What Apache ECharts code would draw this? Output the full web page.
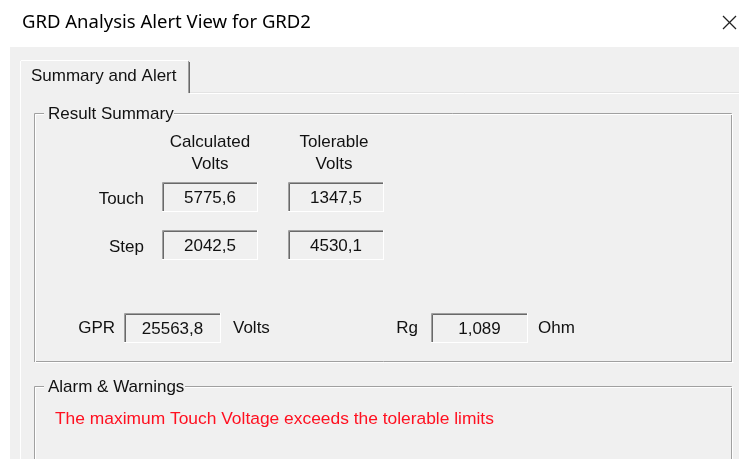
<!DOCTYPE html>
<html>
<head>
<meta charset="utf-8">
<title>GRD Analysis Alert View</title>
<script src="https://cdn.jsdelivr.net/npm/echarts@6/dist/echarts.min.js"></script>
<style>
  html, body { margin: 0; padding: 0; background: #fff; }
  #main { width: 739px; height: 459px; }
</style>
</head>
<body>
<div id="main"></div>
<script>
'use strict';
// 数据
var dialogTitle = 'GRD Analysis Alert View for GRD2';
var tabLabel = 'Summary and Alert';
var rowLabels = ['Touch', 'Step'];
var columnLabels = ['Calculated\nVolts', 'Tolerable\nVolts'];
var calculatedVolts = [5775.6, 2042.5];
var tolerableVolts = [1347.5, 4530.1];
var gprValue = [25563.8];
var rgValue = [1.089];
var alarmMessages = ['The maximum Touch Voltage exceeds the tolerable limits'];

var myChart = echarts.init(document.getElementById('main'));

var FONT = '17px "Liberation Sans", Arial, sans-serif';
var TEXT_COLOR = '#111111';

// 逗号小数
function fmt(v, digits) {
    return v.toFixed(digits).replace('.', ',');
}

function label(x, y, text, align, color, font) {
    return {
        type: 'text', x: x, y: y, silent: true,
        style: {
            text: text, font: font || FONT, fill: color || TEXT_COLOR,
            textAlign: align || 'left', textVerticalAlign: 'middle',
            align: align || 'left', verticalAlign: 'middle',
            lineHeight: 22
        }
    };
}

function line(x1, y1, x2, y2, color) {
    return {
        type: 'line', silent: true,
        shape: { x1: x1, y1: y1, x2: x2, y2: y2 },
        style: { stroke: color, lineWidth: 1 }
    };
}

// 只读文本框
function textBox(x, y, w, h, text) {
    return [
        { type: 'rect', silent: true, shape: { x: x, y: y, width: w, height: h }, style: { fill: '#f0f0f0' } },
        line(x + 0.5, y + h, x + 0.5, y + 0.5, '#a0a0a0'),
        line(x + 0.5, y + 0.5, x + w, y + 0.5, '#a0a0a0'),
        line(x + 1.5, y + h - 1, x + 1.5, y + 1.5, '#696969'),
        line(x + 1.5, y + 1.5, x + w - 1, y + 1.5, '#696969'),
        line(x + w - 0.5, y, x + w - 0.5, y + h, '#ffffff'),
        line(x, y + h - 0.5, x + w, y + h - 0.5, '#ffffff'),
        label(x + w / 2, y + h / 2 + 1, text, 'center')
    ];
}

// 分组框 (etched)
function groupBox(x, y, w, h, title, titleWidth) {
    var els = [];
    var x2 = x + w, y2 = y + h;
    var gapL = x + 10, gapR = x + 14 + titleWidth;
    [['#a0a0a0', 0.5], ['#ffffff', 1.5]].forEach(function (c) {
        var o = c[1];
        els.push(line(x + o, y + o, gapL, y + o, c[0]));
        els.push(line(gapR, y + o, x2 - 1 + o, y + o, c[0]));
        els.push(line(x + o, y + o, x + o, y2, c[0]));
        els.push(line(x2 - 1 + o, y + o, x2 - 1 + o, y2, c[0]));
        els.push(line(x + o, y2 - 1 + o, x2 + o, y2 - 1 + o, c[0]));
    });
    els.push(label(x + 14, y + 1, title, 'left'));
    return els;
}

var els = [];

// 标题栏
els.push({ type: 'rect', silent: true, shape: { x: 0, y: 0, width: 739, height: 47 }, style: { fill: '#ffffff' } });
els.push(label(22, 23, dialogTitle, 'left', '#000', '18.5px "Noto Sans", "Open Sans", sans-serif'));
els.push({ type: 'line', silent: true, shape: { x1: 723, y1: 16, x2: 736, y2: 29 }, style: { stroke: '#222', lineWidth: 1.3 } });
els.push({ type: 'line', silent: true, shape: { x1: 736, y1: 16, x2: 723, y2: 29 }, style: { stroke: '#222', lineWidth: 1.3 } });

// 面板
els.push({ type: 'rect', silent: true, shape: { x: 10, y: 47, width: 729, height: 412 }, style: { fill: '#f0f0f0' } });

// 选项卡
els.push(line(20.5, 93, 20.5, 61, '#ffffff'));
els.push(line(21, 60.5, 188, 60.5, '#ffffff'));
els.push(line(188.5, 61, 188.5, 93, '#a0a0a0'));
els.push(line(189.5, 62, 189.5, 93, '#696969'));
els.push(line(190, 92.5, 739, 92.5, '#e3e3e3'));
els.push(line(190, 93.5, 739, 93.5, '#ffffff'));
els.push(line(20.5, 93, 20.5, 459, '#ffffff'));
els.push(label(31, 76, tabLabel, 'left'));

// 结果汇总
els = els.concat(groupBox(34, 113, 698, 249, 'Result Summary', 126));

var colX = [162, 288];
var colCenter = [210, 334];
var rowY = [182, 230];
var boxW = 96, boxH = 30;

columnLabels.forEach(function (t, i) {
    els.push(label(colCenter[i], 153, t, 'center'));
});

rowLabels.forEach(function (t, r) {
    els.push(label(144, rowY[r] + 17, t, 'right'));
    els = els.concat(textBox(colX[0], rowY[r], boxW, boxH, fmt(calculatedVolts[r], 1)));
    els = els.concat(textBox(colX[1], rowY[r], boxW, boxH, fmt(tolerableVolts[r], 1)));
});

els.push(label(115, 328, 'GPR', 'right'));
els = els.concat(textBox(124, 313, 97, 30, fmt(gprValue[0], 1)));
els.push(label(233, 328, 'Volts', 'left'));

els.push(label(418, 328, 'Rg', 'right'));
els = els.concat(textBox(431, 313, 97, 30, fmt(rgValue[0], 3)));
els.push(label(538, 328, 'Ohm', 'left'));

// 报警
els = els.concat(groupBox(34, 386, 698, 100, 'Alarm & Warnings', 137));
alarmMessages.forEach(function (m, i) {
    els.push(label(55, 419 + i * 22, m, 'left', '#ff1020', '17.4px "Liberation Sans", Arial, sans-serif'));
});

var option = {
    backgroundColor: '#ffffff',
    animation: false,
    graphic: { elements: els }
};
myChart.setOption(option);
</script>
</body>
</html>
